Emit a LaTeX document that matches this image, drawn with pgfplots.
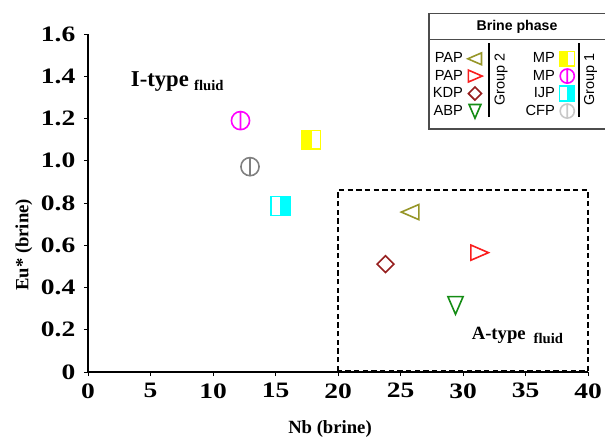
\documentclass[border=0pt]{standalone}
\usepackage{fontspec}
\setmainfont{Liberation Serif}
\setsansfont{Liberation Sans}
\newfontfamily\tickfont[FakeStretch=1.25]{Liberation Serif}
\usepackage{pgfplots}
\pgfplotsset{compat=1.18}
\definecolor{olivec}{RGB}{150,150,40}
\definecolor{redc}{RGB}{250,30,30}
\definecolor{brownc}{RGB}{150,30,30}
\definecolor{greenc}{RGB}{20,140,20}
\definecolor{magc}{RGB}{255,0,255}
\definecolor{grayc}{RGB}{128,128,128}
\definecolor{lgrayc}{RGB}{200,200,200}
\definecolor{yelc}{RGB}{255,255,0}
\definecolor{cyanc}{RGB}{0,255,255}
% triangle pointing up (rotated via mark options)
\pgfdeclareplotmark{tri}{%
  \pgfpathmoveto{\pgfqpoint{0pt}{1.15\pgfplotmarksize}}%
  \pgfpathlineto{\pgfqpoint{0.95\pgfplotmarksize}{-1.05\pgfplotmarksize}}%
  \pgfpathlineto{\pgfqpoint{-0.95\pgfplotmarksize}{-1.05\pgfplotmarksize}}%
  \pgfpathclose\pgfusepathqstroke}
\pgfdeclareplotmark{dia}{%
  \pgfpathmoveto{\pgfqpoint{0pt}{\pgfplotmarksize}}%
  \pgfpathlineto{\pgfqpoint{\pgfplotmarksize}{0pt}}%
  \pgfpathlineto{\pgfqpoint{0pt}{-\pgfplotmarksize}}%
  \pgfpathlineto{\pgfqpoint{-\pgfplotmarksize}{0pt}}%
  \pgfpathclose\pgfusepathqstroke}
\pgfdeclareplotmark{obar}{%
  \pgfpathcircle{\pgfpointorigin}{\pgfplotmarksize}%
  \pgfpathmoveto{\pgfqpoint{0pt}{\pgfplotmarksize}}%
  \pgfpathlineto{\pgfqpoint{0pt}{-\pgfplotmarksize}}%
  \pgfusepathqstroke}
\pgfdeclareplotmark{sqL}{%
  \pgfpathrectangle{\pgfqpoint{-\pgfplotmarksize}{-\pgfplotmarksize}}{\pgfqpoint{1.1\pgfplotmarksize}{2\pgfplotmarksize}}%
  \pgfusepathqfill
  \pgfpathrectangle{\pgfqpoint{-\pgfplotmarksize}{-\pgfplotmarksize}}{\pgfqpoint{2\pgfplotmarksize}{2\pgfplotmarksize}}%
  \pgfusepathqstroke}
\pgfdeclareplotmark{sqR}{%
  \pgfpathrectangle{\pgfqpoint{-0.02\pgfplotmarksize}{-\pgfplotmarksize}}{\pgfqpoint{1.02\pgfplotmarksize}{2\pgfplotmarksize}}%
  \pgfusepathqfill
  \pgfpathrectangle{\pgfqpoint{-\pgfplotmarksize}{-\pgfplotmarksize}}{\pgfqpoint{2\pgfplotmarksize}{2\pgfplotmarksize}}%
  \pgfusepathqstroke}
\begin{document}
\begin{tikzpicture}
\begin{axis}[
  scale only axis, width=375pt, height=253.5pt,
  xmin=0, xmax=40, ymin=0, ymax=1.6,
  clip=false,
  axis x line*=bottom, axis y line*=left,
  axis line style={line width=1.3pt, black},
  xtick={0,5,10,15,20,25,30,35,40},
  xticklabels={0,5,10,15,20,25,30,35,40},
  ytick={0,0.2,0.4,0.6,0.8,1,1.2,1.4,1.6},
  yticklabels={0,0.2,0.4,0.6,0.8,1.0,1.2,1.4,1.6},
  tick align=outside, major tick length=3pt,
  tick style={black, line width=0.6pt},
  /pgf/number format/assume math mode=true,
  ticklabel style={font=\tickfont\bfseries\fontsize{16.5}{16.5}\selectfont},
  yticklabel style={xshift=-3pt},
  xticklabel style={yshift=-2pt},
  xlabel={Nb (brine)}, ylabel={Eu* (brine)},
  label style={font=\bfseries\fontsize{14}{14}\selectfont},
  xlabel style={at={(rel axis cs:0.484,-0.168)}, anchor=center},
  ylabel style={at={(rel axis cs:-0.128,0.376)}, anchor=center, rotate=0},
  legend columns=2, legend plot pos=right, legend cell align=right,
  legend style={at={(rel axis cs:0.974,0.949)}, anchor=north east, draw=none, fill=none,
    inner sep=0pt, font=\sffamily\fontsize{11}{12}\selectfont, row sep=2.2pt,
    nodes={inner sep=0.6pt},
    /tikz/every even column/.append style={column sep=32pt},
    /tikz/every odd column/.append style={column sep=3pt}},
  legend image code/.code={\draw[#1] plot coordinates {(0cm,0cm)};},
  legend image post style={every mark/.append style={scale=0.78}},
]
% Group 2 / Group 1 data, in legend row order
\addplot[color=olivec, line width=1.2pt, mark=tri, mark size=6pt, mark options={rotate=90}] coordinates {(25.8,0.757)};
\addlegendentry{PAP}
\addplot[color=yelc, fill=yelc, line width=1.1pt, mark=sqL, mark size=7pt] coordinates {(17.85,1.10)};
\addlegendentry{MP}
\addplot[color=redc, line width=1.2pt, mark=tri, mark size=6pt, mark options={rotate=-90}] coordinates {(31.3,0.565)};
\addlegendentry{PAP}
\addplot[color=magc, line width=1.2pt, mark=obar, mark size=6.8pt] coordinates {(12.2,1.19)};
\addlegendentry{MP}
\addplot[color=brownc, line width=1.2pt, mark=dia, mark size=6.3pt] coordinates {(23.8,0.511)};
\addlegendentry{KDP}
\addplot[color=cyanc, fill=cyanc, line width=1.1pt, mark=sqR, mark size=7.2pt] coordinates {(15.4,0.786)};
\addlegendentry{IJP}
\addplot[color=greenc, line width=1.2pt, mark=tri, mark size=6pt, mark options={rotate=180}] coordinates {(29.4,0.317)};
\addlegendentry{ABP}
\addplot[forget plot, color=grayc, line width=1.2pt, mark=obar, mark size=6.8pt] coordinates {(12.96,0.972)};
\addlegendimage{color=lgrayc, line width=1.2pt, mark=obar, mark size=6.8pt}
\addlegendentry{CFP}
% dashed A-type field
\addplot[forget plot, black, line width=1.3pt, dash pattern=on 4pt off 2.5pt, mark=none]
  coordinates {(20,0.005) (20,0.862) (40,0.862) (40,0.005) (20,0.005)};
% legend frame and group labels
\draw[line width=0.8pt, black!70] (rel axis cs:0.682,0.719) rectangle (rel axis cs:1.1,1.062);
\draw[line width=0.8pt, black!70] (rel axis cs:0.682,0.985) -- (rel axis cs:1.1,0.985);
\node[font=\sffamily\bfseries\fontsize{10.6}{12}\selectfont] at (rel axis cs:0.858,1.021) {Brine phase};
\draw[line width=1.5pt] (rel axis cs:0.802,0.754) -- (rel axis cs:0.802,0.973);
\draw[line width=1.5pt] (rel axis cs:0.982,0.754) -- (rel axis cs:0.982,0.973);
\node[rotate=90, font=\sffamily\fontsize{10.8}{12}\selectfont] at (rel axis cs:0.826,0.864) {Group 2};
\node[rotate=90, font=\sffamily\fontsize{10.8}{12}\selectfont] at (rel axis cs:1.005,0.864) {Group 1};
% field labels
\node[anchor=base west, inner sep=0pt, font=\bfseries\fontsize{17}{17}\selectfont] at (rel axis cs:0.0854,0.846) {I-type\hspace{4pt}\raisebox{-3.5pt}{\fontsize{11}{11}\selectfont fluid}};
\node[anchor=base west, inner sep=0pt, font=\bfseries\fontsize{14}{14}\selectfont] at (rel axis cs:0.767,0.0947) {A-type\hspace{6pt}\raisebox{-3pt}{\fontsize{11}{11}\selectfont fluid}};
\end{axis}
\pgfresetboundingbox
\useasboundingbox (-66pt,-48pt) rectangle (387.75pt,279pt);
\end{tikzpicture}
\end{document}
